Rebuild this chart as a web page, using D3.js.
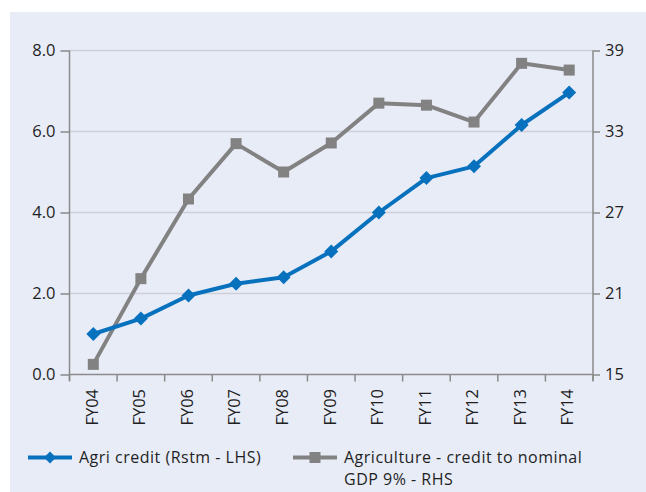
<!DOCTYPE html>
<html>
<head>
<meta charset="utf-8">
<script src="https://cdn.jsdelivr.net/npm/d3@7"></script>
<style>
  html, body { margin: 0; padding: 0; background: #ffffff; }
  svg { display: block; }
  text { font-family: "Open Sans", "Noto Sans", sans-serif; fill: #1f1f1f; }
</style>
</head>
<body>
<svg id="chart" width="646" height="492"></svg>
<script>
// ---- data ----
const categories = ["FY04","FY05","FY06","FY07","FY08","FY09","FY10","FY11","FY12","FY13","FY14"];
const agriCredit = [1.0, 1.38, 1.95, 2.24, 2.40, 3.04, 4.0, 4.85, 5.14, 6.16, 6.96];
const creditToGDP = [15.75, 22.1, 28.0, 32.1, 30.0, 32.15, 35.1, 34.95, 33.7, 38.05, 37.55];
const leftTicks = [0, 2, 4, 6, 8];
const rightTicks = [15, 21, 27, 33, 39];
const seriesNames = ["Agri credit (Rstm - LHS)", ["Agriculture - credit to nominal", "GDP 9% - RHS"]];

const svg = d3.select("#chart");
const W = 646, H = 492;
const FS = 16.5, LFS = 16;
const plot = { left: 69.5, right: 593, top: 50.5, bottom: 374.5 };
const blue = "#0871be", gray = "#828282", axisCol = "#8a8a8a", gridCol = "#cdd0d8";

// panel background
svg.append("rect").attr("x", 10).attr("y", 12).attr("width", W - 10).attr("height", H - 12).attr("fill", "#e8ecf7");

const x = d3.scaleBand().domain(categories).range([plot.left, plot.right]).padding(0);
const yL = d3.scaleLinear().domain([0, 8]).range([plot.bottom, plot.top]);
const yR = d3.scaleLinear().domain([15, 39]).range([plot.bottom, plot.top]);

// gridlines
svg.append("g").selectAll("line").data(leftTicks.slice(1)).join("line")
  .attr("x1", plot.left).attr("x2", plot.right)
  .attr("y1", d => yL(d)).attr("y2", d => yL(d))
  .attr("stroke", gridCol).attr("stroke-width", 1.5);

// left axis
const gL = svg.append("g").attr("transform", `translate(${plot.left},0)`)
  .call(d3.axisLeft(yL).tickValues(leftTicks).tickFormat(d3.format(".1f")).tickSize(9).tickPadding(5));
// right axis
const gR = svg.append("g").attr("transform", `translate(${plot.right},0)`)
  .call(d3.axisRight(yR).tickValues(rightTicks).tickSize(7).tickPadding(5));
[gL, gR].forEach(g => {
  g.select(".domain").attr("d", `M0,${plot.top}V${plot.bottom + 6}`).attr("stroke", axisCol).attr("stroke-width", 1.5);
  g.selectAll(".tick line").attr("stroke", axisCol).attr("stroke-width", 1.5);
  g.selectAll(".tick text").attr("font-size", FS).attr("fill", "#1f1f1f").style("font-family", "'Open Sans', sans-serif");
});

// x axis
const gX = svg.append("g").attr("transform", `translate(0,${plot.bottom})`);
gX.append("line").attr("x1", plot.left).attr("x2", plot.right).attr("y1", 0).attr("y2", 0)
  .attr("stroke", axisCol).attr("stroke-width", 1.5);
const edges = categories.map(c => x(c)).concat([plot.right]);
gX.selectAll("line.tk").data(edges).join("line").attr("class", "tk")
  .attr("x1", d => d).attr("x2", d => d).attr("y1", 0).attr("y2", 7)
  .attr("stroke", axisCol).attr("stroke-width", 1.5);
gX.selectAll("text").data(categories).join("text")
  .attr("transform", d => `translate(${x(d) + x.bandwidth() / 2 - 1.5},14.5) rotate(-90)`)
  .attr("text-anchor", "end").attr("dy", "0.35em")
  .attr("font-size", FS).text(d => d);

const cx = (d, i) => x(categories[i]) + x.bandwidth() / 2;

// gray series
svg.append("path").datum(creditToGDP)
  .attr("fill", "none").attr("stroke", gray).attr("stroke-width", 4).attr("stroke-linejoin", "round")
  .attr("d", d3.line().x(cx).y(d => yR(d)));
svg.append("g").selectAll("rect").data(creditToGDP).join("rect")
  .attr("x", (d, i) => cx(d, i) - 5.5).attr("y", d => yR(d) - 5.5)
  .attr("width", 11).attr("height", 11).attr("fill", gray);

// blue series
svg.append("path").datum(agriCredit)
  .attr("fill", "none").attr("stroke", blue).attr("stroke-width", 4).attr("stroke-linejoin", "round")
  .attr("d", d3.line().x(cx).y(d => yL(d)));
svg.append("g").selectAll("path").data(agriCredit).join("path")
  .attr("d", "M0,-7L7,0L0,7L-7,0Z")
  .attr("transform", (d, i) => `translate(${cx(d, i)},${yL(d)})`)
  .attr("fill", blue);

// legend
const lg = svg.append("g");
lg.append("line").attr("x1", 28).attr("x2", 72).attr("y1", 457.5).attr("y2", 457.5).attr("stroke", blue).attr("stroke-width", 4);
lg.append("path").attr("d", "M0,-6L6,0L0,6L-6,0Z").attr("transform", "translate(50,457.5)").attr("fill", blue);
lg.append("text").attr("x", 79).attr("y", 463).attr("font-size", LFS).attr("letter-spacing", 0.5).text(seriesNames[0]);

lg.append("line").attr("x1", 293).attr("x2", 337).attr("y1", 457.5).attr("y2", 457.5).attr("stroke", gray).attr("stroke-width", 4);
lg.append("rect").attr("x", 309.5).attr("y", 452).attr("width", 11).attr("height", 11).attr("fill", gray);
lg.selectAll("text.l2").data(seriesNames[1]).join("text").attr("class", "l2")
  .attr("x", 344).attr("y", (d, i) => 462.5 + i * 22.2)
  .attr("font-size", LFS).attr("letter-spacing", 0.5).text(d => d);
</script>
</body>
</html>
